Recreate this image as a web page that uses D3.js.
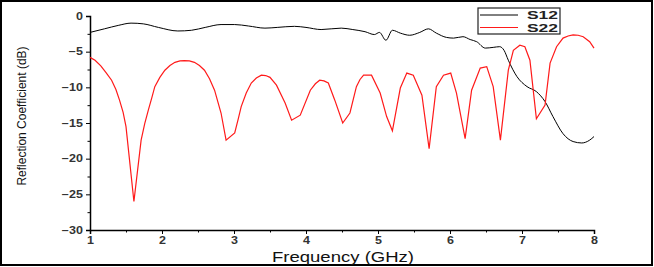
<!DOCTYPE html>
<html>
<head>
<meta charset="utf-8">
<script src="https://cdn.jsdelivr.net/npm/d3@7"></script>
<style>
  body { margin: 0; background: #fff; }
  svg { display: block; font-family: "Liberation Sans", Arial, sans-serif; }
</style>
</head>
<body>
<div id="chart"></div>
<script>
// S12 (black) – frequency in GHz, magnitude in dB
var s12Freq = [1.0, 1.2, 1.4, 1.57, 1.74, 1.95, 2.22, 2.41, 2.6, 2.82, 3.01, 3.2, 3.43, 3.6, 3.84, 4.0, 4.21, 4.49, 4.65, 4.82, 4.95, 5.02, 5.11, 5.2, 5.31, 5.44, 5.58, 5.7, 5.81, 5.95, 6.05, 6.18, 6.28, 6.37, 6.49, 6.6, 6.69, 6.75, 6.81, 6.93, 7.07, 7.2, 7.32, 7.43, 7.57, 7.71, 7.83, 7.94, 8.0];
var s12Val  = [-2.3, -1.8, -1.3, -1.0, -1.1, -1.6, -2.1, -2.0, -1.6, -1.2, -1.2, -1.4, -1.7, -1.6, -1.45, -1.6, -1.9, -1.7, -1.9, -2.2, -2.6, -2.3, -3.4, -2.0, -2.4, -2.7, -2.3, -1.8, -2.4, -3.0, -3.1, -2.9, -3.3, -3.6, -4.5, -4.4, -4.3, -4.8, -6.2, -8.5, -9.9, -10.6, -12.0, -14.1, -16.5, -17.6, -17.8, -17.4, -16.9];

// S22 (red)
var s22Freq = [1.0, 1.07, 1.15, 1.22, 1.3, 1.36, 1.41, 1.46, 1.5, 1.61, 1.71, 1.76, 1.81, 1.86, 1.9, 1.97, 2.04, 2.11, 2.18, 2.25, 2.31, 2.38, 2.45, 2.52, 2.59, 2.66, 2.73, 2.82, 2.89, 3.01, 3.06, 3.1, 3.17, 3.24, 3.31, 3.38, 3.44, 3.5, 3.59, 3.71, 3.8, 3.92, 4.06, 4.13, 4.19, 4.25, 4.31, 4.4, 4.51, 4.61, 4.7, 4.75, 4.8, 4.91, 5.03, 5.12, 5.2, 5.31, 5.4, 5.49, 5.61, 5.71, 5.81, 5.91, 6.01, 6.09, 6.21, 6.3, 6.42, 6.51, 6.6, 6.7, 6.81, 6.88, 6.97, 7.04, 7.11, 7.2, 7.32, 7.39, 7.48, 7.57, 7.64, 7.71, 7.78, 7.85, 7.94, 8.0];
var s22Val  = [-5.8, -6.2, -7.0, -7.9, -9.0, -10.3, -11.8, -13.5, -15.5, -26.0, -17.4, -15.1, -13.2, -11.4, -9.9, -8.6, -7.6, -6.95, -6.5, -6.3, -6.25, -6.3, -6.5, -6.95, -7.6, -8.8, -10.4, -13.6, -17.4, -16.4, -14.4, -12.7, -10.8, -9.4, -8.7, -8.3, -8.35, -8.6, -9.7, -12.2, -14.6, -13.9, -10.4, -9.5, -9.0, -9.1, -9.4, -11.8, -15.0, -13.6, -9.9, -8.9, -8.3, -8.3, -10.8, -14.1, -16.1, -10.1, -8.0, -8.3, -11.1, -18.6, -9.9, -8.3, -8.0, -10.8, -17.2, -10.4, -7.3, -7.1, -9.9, -17.4, -7.6, -4.8, -4.1, -4.3, -6.2, -14.4, -12.5, -6.6, -4.3, -3.1, -2.8, -2.65, -2.7, -2.9, -3.6, -4.5];

var xTicks = [1, 2, 3, 4, 5, 6, 7, 8];
var yTicks = [0, -5, -10, -15, -20, -25, -30];
var legendNames = ["S12", "S22"];
var legendColors = ["#000", "#ff1a1a"];

const width = 654;
const height = 267;

const svg = d3.select("#chart")
  .append("svg")
  .attr("width", width)
  .attr("height", height);

/* Frame */
svg.append("rect")
  .attr("x", 1).attr("y", 1)
  .attr("width", width - 3).attr("height", height - 3)
  .attr("fill", "none")
  .attr("stroke", "#000")
  .attr("stroke-width", 2);

const x = d3.scaleLinear().domain([1, 8]).range([90, 594]);
const y = d3.scaleLinear().domain([-30, 0]).range([230, 16]);

// widen tick labels a little, the original font is broad
function styleTicks(g) {
  g.selectAll("text")
    .attr("font-size", 10)
    .attr("font-weight", "bold")
    .attr("fill", "#333")
    .each(function () {
      const w = this.getComputedTextLength();
      d3.select(this).attr("textLength", w * 1.25).attr("lengthAdjust", "spacingAndGlyphs");
    });
}

/* Minor ticks */
svg.append("g")
  .attr("transform", "translate(0,230)")
  .call(d3.axisBottom(x).tickValues(d3.range(1.5, 8, 1)).tickSize(2.5).tickFormat(""))
  .call((g) => g.select(".domain").remove());
svg.append("g")
  .attr("transform", "translate(90,0)")
  .call(d3.axisLeft(y).tickValues(d3.range(-27.5, 0, 5)).tickSize(2.5).tickFormat(""))
  .call((g) => g.select(".domain").remove());

/* Axes */
svg.append("g")
  .attr("transform", "translate(0,230)")
  .call(d3.axisBottom(x).tickValues(xTicks).tickFormat(d3.format("d")).tickSize(4).tickPadding(3))
  .call((g) => g.select(".domain").attr("stroke-width", 1.5))
  .call(styleTicks);

svg.append("g")
  .attr("transform", "translate(90,0)")
  .call(d3.axisLeft(y).tickValues(yTicks).tickFormat(d3.format("d")).tickSize(4).tickPadding(3))
  .call((g) => g.select(".domain").attr("stroke-width", 1.5))
  .call(styleTicks);

/* Axis titles */
svg.append("text")
  .attr("x", 343).attr("y", 262)
  .attr("text-anchor", "middle")
  .attr("font-size", 14)
  .attr("fill", "#111")
  .attr("textLength", 142)
  .attr("lengthAdjust", "spacingAndGlyphs")
  .text("Frequency (GHz)");

svg.append("text")
  .attr("transform", "translate(26,116) rotate(-90)")
  .attr("text-anchor", "middle")
  .attr("font-size", 12)
  .attr("fill", "#111")
  .text("Reflection Coefficient (dB)");

/* Curves */
const line = d3.line()
  .x((d) => x(d[0]))
  .y((d) => y(d[1]));

svg.append("path")
  .datum(d3.zip(s12Freq, s12Val))
  .attr("fill", "none")
  .attr("stroke", legendColors[0])
  .attr("stroke-width", 1)
  .attr("d", line.curve(d3.curveMonotoneX));

svg.append("path")
  .datum(d3.zip(s22Freq, s22Val))
  .attr("fill", "none")
  .attr("stroke", legendColors[1])
  .attr("stroke-width", 1.2)
  .attr("d", line.curve(d3.curveLinear));

/* Legend */
const legend = svg.append("g").attr("transform", "translate(478,8)");
legend.append("rect")
  .attr("width", 82).attr("height", 26)
  .attr("fill", "#fff")
  .attr("stroke", "#222")
  .attr("stroke-width", 1.2);
legend.selectAll("g.item")
  .data(legendNames)
  .join("g")
  .attr("class", "item")
  .attr("transform", (d, i) => `translate(0,${7 + i * 12.5})`)
  .each(function (d, i) {
    const g = d3.select(this);
    g.append("line")
      .attr("x1", 2).attr("x2", 40)
      .attr("stroke", legendColors[i])
      .attr("stroke-width", 1);
    g.append("text")
      .attr("x", 49).attr("y", 4)
      .attr("font-size", 10.5)
      .attr("font-weight", "bold")
      .attr("fill", "#222")
      .attr("textLength", 31)
      .attr("lengthAdjust", "spacingAndGlyphs")
      .text(d);
  });
</script>
</body>
</html>
